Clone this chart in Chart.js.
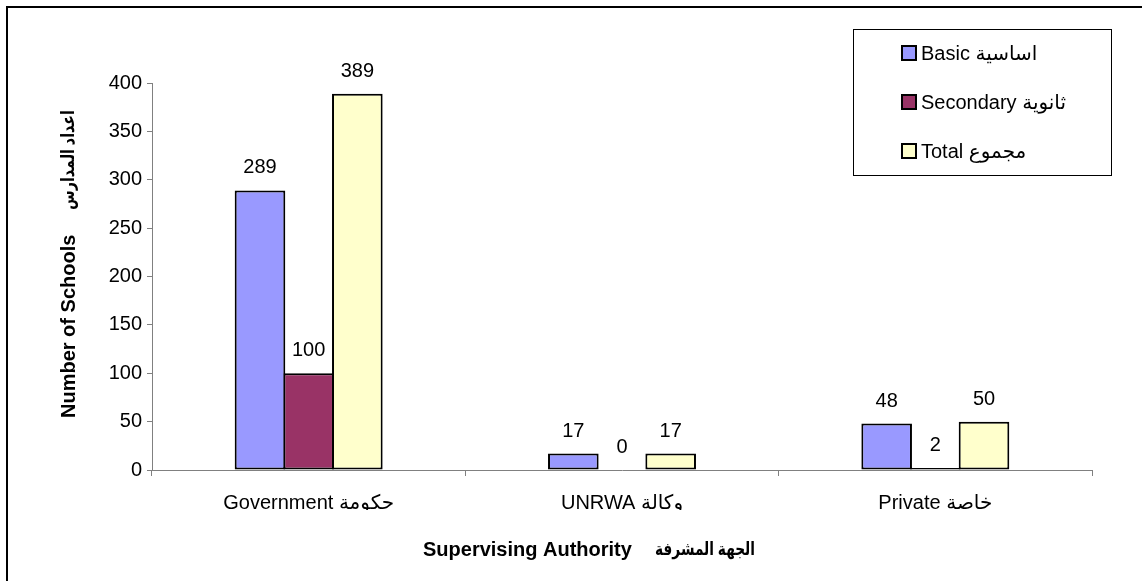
<!DOCTYPE html>
<html>
<head>
<meta charset="utf-8">
<script src="https://cdn.jsdelivr.net/npm/chart.js@4/dist/chart.umd.min.js"></script>
<style>
    html, body { margin: 0; padding: 0; background: #fff; overflow: hidden; }
    #wrap { position: relative; width: 1142px; height: 581px; overflow: hidden; }
    #frame {
        position: absolute; left: 6px; top: 6px; width: 1300px; height: 700px;
        border: 2px solid #000; box-sizing: border-box;
    }
    #title {
        position: absolute; left: 260px; top: -38px; width: 600px;
        font: bold 16px 'Liberation Sans', Arial, sans-serif; line-height: 20px;
        text-align: center; color: #000;
    }
    #schoolsChart { position: absolute; left: 0; top: 0; }
</style>
</head>
<body>
<div id="wrap">
    <div id="frame"></div>
    <div id="title">Number of Schools by<br>Supervising Authority, 2005/2006</div>
    <canvas id="schoolsChart" width="1142" height="581"></canvas>
</div>
<script>
// ─── Data ─────────────────────────────────────────────────────────────────────
const categories      = ['Government حكومة', 'UNRWA وكالة', 'Private خاصة'];
const seriesLabels    = ['Basic اساسية', 'Secondary ثانوية', 'Total مجموع'];
const basicValues     = [289, 17, 48];
const secondaryValues = [100, 0, 2];
const totalValues     = [389, 17, 50];
const yTickMin  = 0;
const yTickMax  = 400;
const yTickStep = 50;
const yTitleEn = 'Number of Schools';
const yTitleAr = 'اعداد المدارس';
const xTitleEn = 'Supervising Authority';
const xTitleAr = 'الجهة المشرفة';

const FONT = "'Liberation Sans', Arial, 'DejaVu Sans', sans-serif";
const seriesColors = ['#9999FF', '#993366', '#FFFFCC'];

Chart.defaults.font.family = FONT;
Chart.defaults.font.size   = 20;
Chart.defaults.color       = '#000';

// ─── Plugin: values above bars ────────────────────────────────────────────────
const valueLabels = {
    id: 'valueLabels',
    afterDatasetsDraw(chart) {
        const ctx = chart.ctx;
        ctx.save();
        ctx.font = `20px ${FONT}`;
        ctx.fillStyle = '#000';
        ctx.textAlign = 'center';
        ctx.textBaseline = 'alphabetic';
        chart.data.datasets.forEach((ds, i) => {
            chart.getDatasetMeta(i).data.forEach((bar, j) => {
                ctx.fillText(String(ds.data[j]), bar.x, bar.y - 17);
            });
        });
        ctx.restore();
    }
};

// ─── Plugin: boxed legend + axis titles ───────────────────────────────────────
const decorations = {
    id: 'decorations',
    afterDraw(chart) {
        const ctx = chart.ctx;
        ctx.save();

        // legend box
        ctx.strokeStyle = '#000';
        ctx.lineWidth = 1;
        ctx.strokeRect(853.5, 29.5, 258, 146);
        const rows = [53, 102, 151];
        ctx.font = `20px ${FONT}`;
        ctx.textAlign = 'left';
        ctx.textBaseline = 'middle';
        chart.data.datasets.forEach((ds, i) => {
            const y = rows[i];
            ctx.fillStyle = ds.backgroundColor;
            ctx.fillRect(902, y - 7, 14, 14);
            ctx.lineWidth = 2;
            ctx.strokeStyle = '#000';
            ctx.strokeRect(902, y - 7, 14, 14);
            ctx.fillStyle = '#000';
            ctx.fillText(ds.label, 921, y + 1);
        });

        // x axis title
        ctx.fillStyle = '#000';
        ctx.textBaseline = 'middle';
        ctx.font = `bold 20px ${FONT}`;
        ctx.fillText(xTitleEn, 423, 550);
        ctx.font = `bold 18px ${FONT}`;
        ctx.fillText(xTitleAr, 655, 550, 100);

        // y axis title (rotated)
        ctx.translate(69, 0);
        ctx.rotate(-Math.PI / 2);
        ctx.font = `bold 20px ${FONT}`;
        ctx.fillText(yTitleEn, -418, 0);
        ctx.font = `bold 18px ${FONT}`;
        ctx.fillText(yTitleAr, -210, 0, 100);

        ctx.restore();
    }
};

// ─── Chart ────────────────────────────────────────────────────────────────────
const seriesValues = [basicValues, secondaryValues, totalValues];

new Chart(document.getElementById('schoolsChart'), {
    type: 'bar',
    data: {
        labels: categories,
        datasets: seriesValues.map((values, i) => ({
            label: seriesLabels[i],
            data: values,
            backgroundColor: seriesColors[i],
            borderColor: '#000',
            borderWidth: 2,
            borderSkipped: false,
            categoryPercentage: 0.466,
            barPercentage: 1.04
        }))
    },
    options: {
        responsive: false,
        devicePixelRatio: 1,
        animation: false,
        layout: { padding: { left: 0, top: 83, right: 50, bottom: 71 } },
        plugins: {
            legend:  { display: false },
            tooltip: { enabled: false }
        },
        scales: {
            x: {
                grid: {
                    offset: true,
                    drawOnChartArea: false,
                    tickLength: 6,
                    color: '#808080'
                },
                border: { color: '#808080', width: 1 },
                ticks: { padding: 15, font: { size: 20 }, color: '#000', maxRotation: 0 },
                afterFit(scale) { scale.height = 40; }
            },
            y: {
                min: yTickMin,
                max: yTickMax,
                grid: {
                    drawOnChartArea: false,
                    tickLength: 5,
                    color: '#808080'
                },
                border: { color: '#808080', width: 1 },
                ticks: { stepSize: yTickStep, padding: 5, font: { size: 20 }, color: '#000' },
                afterFit(scale) { scale.width = 152; }
            }
        }
    },
    plugins: [valueLabels, decorations]
});
</script>
</body>
</html>
